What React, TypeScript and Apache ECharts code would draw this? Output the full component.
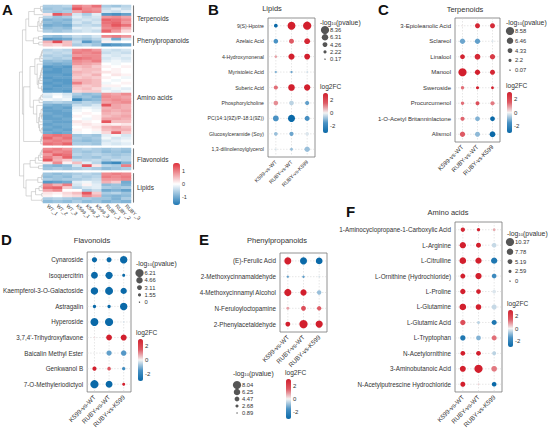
import React, { useEffect, useRef } from 'react';
import * as echarts from 'echarts';

// ---------- Panel A: heatmap data ----------
const sampleLabels = ['WT_1', 'WT_2', 'WT_3', 'K599_1', 'K599_2', 'K599_3', 'RUBY_1', 'RUBY_2', 'RUBY_3'];
const groupNames = ['Terpenoids', 'Phenylpropanoids', 'Amino acids', 'Flavonoids', 'Lipids'];
const heatTicks = [1, 0, -1];

const terpenoidRows = [
  [-0.6, -0.6, -0.5, 1.0, 0.8, 1.1, -0.6, -0.7, -0.5],
  [-0.7, -0.6, -0.7, 1.3, 0.9, 0.8, -0.4, -0.2, -0.4],
  [-0.6, -0.7, -0.6, 0.7, 1.0, 0.9, -0.3, -0.4, -0.2],
  [0.2, 1.3, 0.9, -0.3, -0.6, -0.2, -1.2, -1.3, -1.1],
  [-0.5, -0.7, -0.6, -0.2, -0.4, -0.3, 0.8, 0.9, 0.7],
  [-0.9, -0.8, -0.9, -0.4, -0.3, -0.4, 1.2, 1.1, 0.9],
  [-0.8, -0.9, -0.8, -0.3, -0.5, -0.3, 1.1, 1.2, 0.8],
  [-1.0, -0.9, -1.0, -0.5, -0.4, -0.5, 1.0, 1.3, 1.1],
  [-0.8, -0.7, -0.8, -0.2, -0.3, -0.2, 0.9, 1.0, 0.6],
  [-0.6, -0.7, -0.6, -0.4, -0.3, -0.4, 1.2, 0.8, 0.3],
];
const phenylRows = [
  [-0.7, -0.8, -0.6, -0.4, -0.5, -0.3, 0.9, 1.0, 0.8],
  [-1.2, -1.1, -1.0, -0.6, -0.7, -0.5, -0.2, -1.0, -0.3],
  [0.6, 1.4, 0.5, -0.4, -1.2, -0.8, 0.1, -0.1, 0.0],
  [0.4, 0.3, 0.5, -0.6, -0.5, -0.7, -1.3, -1.2, -1.1],
];
const aminoRows = [
  [-0.5, -0.4, -0.5, 0.9, 1.0, 0.8, -0.3, -0.4, -0.3],
  [-0.4, -0.5, -0.4, 1.0, 0.9, 1.0, -0.4, -0.3, -0.4],
  [-0.6, -0.5, -0.6, 0.8, 0.9, 0.9, -0.2, -0.3, -0.2],
  [-0.5, -0.6, -0.5, 1.1, 1.0, 0.9, -0.3, -0.2, -0.3],
  [-0.8, -0.7, -0.8, 0.9, 0.8, 1.0, -0.2, -0.1, -0.2],
  [-0.9, -1.0, -0.9, 0.8, 0.7, 0.6, 0.0, -0.1, 0.0],
  [-1.2, -1.1, -1.2, 0.5, 0.6, 0.4, 0.1, 0.0, 0.1],
  [-1.1, -1.2, -1.1, 0.4, 0.5, 0.5, 0.0, 0.1, 0.0],
  [-1.2, -1.2, -1.1, 0.6, 0.5, 0.4, 0.2, 0.1, 0.0],
  [-1.1, -1.1, -1.2, 0.5, 0.4, 0.6, 0.0, 0.2, 0.1],
  [-1.2, -1.1, -1.1, 0.4, 0.5, 0.4, 0.1, 0.0, -0.1],
  [-1.1, -1.2, -1.2, 0.6, 0.6, 0.5, 0.0, -0.1, 0.0],
  [-1.2, -1.1, -1.2, 1.0, 0.6, 0.5, -0.1, 0.0, 0.1],
  [-1.1, -1.2, -1.1, 0.5, 0.4, 0.5, 0.1, 0.1, 0.0],
  [-1.2, -1.1, -1.1, 0.4, 0.5, 0.3, -0.2, -0.1, -0.2],
  [-1.1, -1.1, -1.2, 0.3, 0.4, 0.4, -0.1, -0.2, -0.1],
  [-0.2, -0.1, -0.3, -0.6, -0.8, -0.7, 0.8, 0.7, 0.9],
  [-0.3, 0.0, -0.2, -0.8, -0.7, -0.9, 0.9, 0.8, 0.7],
  [-0.1, -0.2, -0.1, -1.4, -0.9, -0.8, 0.8, 0.9, 0.8],
  [-0.6, -0.5, -0.6, -0.7, -0.5, -0.6, 0.7, 0.8, 0.9],
  [-0.9, -1.0, -0.9, -0.4, -0.5, -0.3, 1.3, 0.7, 0.6],
  [-1.1, -1.0, -1.1, -0.2, -0.1, -0.2, 0.6, 0.7, 0.6],
  [-1.1, -1.1, -1.0, -0.1, 0.0, -0.1, 0.7, 0.6, 0.7],
  [-1.0, -1.1, -1.1, 0.0, 0.1, 0.0, 0.6, 0.5, 0.6],
  [-1.1, -1.0, -1.1, 0.1, 0.0, 0.1, 0.5, 0.6, 0.7],
  [-1.1, -1.1, -1.0, 0.0, -0.1, 0.1, 0.7, 0.7, 0.6],
  [-1.0, -1.1, -1.1, 0.2, 0.1, 0.0, 1.3, 0.5, 0.5],
  [-1.1, -1.0, -1.0, 0.1, 0.2, 0.1, 0.2, 0.1, 0.2],
  [-1.0, -1.1, -1.0, 0.0, 0.1, 0.2, 0.6, 0.7, 0.5],
  [-1.1, -1.0, -1.1, 0.1, 0.0, 0.1, 0.5, 0.6, 0.6],
  [-1.0, -1.1, -1.0, -0.1, 0.0, -0.1, 0.3, 1.2, 0.4],
  [1.0, 1.1, 1.0, -0.7, -0.6, -0.7, -0.2, -0.1, -0.3],
  [1.2, 0.9, 1.1, -0.6, -0.7, -0.6, -0.1, -0.3, -0.2],
  [0.9, 1.0, 0.9, -0.7, -0.8, -0.7, -0.3, -0.2, -0.1],
  [1.1, 1.0, 1.2, -0.6, -0.6, -0.7, -0.2, -0.3, -0.2],
];
const flavonoidRows = [
  [0.9, 1.0, 0.8, -0.6, -0.5, -0.6, -0.7, -0.6, -0.7],
  [1.1, 0.9, 1.0, -0.6, -0.7, -0.6, -0.8, -0.7, -0.8],
  [0.8, 1.2, 1.1, -0.5, -0.6, -0.5, -0.6, -0.7, -0.6],
  [1.0, 0.7, 1.2, -0.7, -0.6, -0.7, -0.5, -0.6, -0.5],
  [1.3, 0.6, 0.4, -0.4, -0.5, -0.4, -0.6, -0.4, -0.5],
  [0.2, 0.9, 0.1, 0.5, -0.2, -0.5, -1.2, -1.4, -0.9],
  [-0.8, -0.9, -0.8, -0.3, 1.3, 0.2, -0.5, -0.6, 1.0],
  [-0.7, -0.6, -0.7, -0.6, -0.5, -0.6, -0.8, -0.7, -0.6],
];
const lipidRows = [
  [-0.7, -0.8, -0.7, -0.6, -0.5, -0.6, 0.9, 1.0, 0.9],
  [-0.8, -0.7, -0.8, -0.5, -0.6, -0.5, 1.0, 0.9, 1.0],
  [-0.6, -0.7, -0.6, -0.6, -0.5, -0.4, 0.8, 0.8, 0.9],
  [-1.2, -1.1, -1.0, -0.2, -0.1, -0.3, 0.6, 0.4, -1.0],
  [0.9, 0.6, 1.0, -0.3, 0.1, -0.2, -0.8, -0.7, -0.9],
  [1.1, 1.2, 0.4, -0.5, -0.3, -0.2, -0.6, -0.7, -0.6],
  [0.7, 0.9, 0.0, 0.0, -0.6, -0.4, -1.0, -0.9, -1.1],
  [0.2, 0.1, 0.3, 0.5, 1.3, 0.4, -0.6, -0.5, -0.7],
  [0.1, 0.0, 0.2, 0.3, 0.9, 0.6, -0.8, -0.9, -0.8],
  [-0.6, -0.5, -0.6, -0.7, -0.6, -0.7, -0.7, -0.9, -0.6],
  [-0.8, -0.7, -0.8, -0.6, -0.8, -0.7, -0.9, -0.8, -0.9],
];

// ---------- Dot plots ----------
const comparisons = ['K599-vs-WT', 'RUBY-vs-WT', 'RUBY-vs-K599'];
const fcTicks = [2, 0, -2];

const lipidNames = ['9(S)-Hpotre', 'Azelaic Acid', '4-Hydroxynonenal', 'Myristoleic Acid', 'Suberic Acid', 'Phosphorylcholine', 'PC(14:1(9Z)/P-18:1(9Z))', 'Glucosylceramide (Soy)', '1,3-dilinolenoylglycerol'];
const lipidFC = [[-3, 3, 3], [-1.5, 1.5, 2.8], [0.8, 3, 3], [-1, -1.2, -0.3], [1.3, 3, 3], [1, -0.5, -1.3], [-1.5, -3, -1.6], [-0.8, -1.2, -0.2], [-0.3, -0.8, -0.8]];
const lipidP = [[3, 8.0, 8.36], [4, 4.5, 5.5], [1.5, 6, 5.5], [1.2, 1.2, 0.5], [3.5, 6.5, 6], [4, 4, 3.5], [5.5, 7, 4.5], [3, 3.5, 2.8], [0.3, 2, 5]];
const lipidLegend = [8.36, 6.31, 4.26, 2.22, 0.17];

const terpNames = ['3-Epioleanolic Acid', 'Sclareol', 'Linalool', 'Manool', 'Sweroside', 'Procurcumenol', '1-O-Acetyl Britanninlactone', 'Alismol'];
const terpFC = [[0.1, 2.8, 2.7], [-1.2, -1.3, -0.2], [2.9, 2.8, 2.3], [3, 3, 2.8], [1.3, 3, 3], [1.3, 1.8, 1.2], [1.4, -1.0, -3], [1.5, -0.9, -3]];
const terpP = [[0.2, 4.5, 4.5], [5, 5, 0.8], [4.3, 5.5, 5], [8.58, 5, 4.5], [2.5, 2.2, 1.8], [2.5, 3.3, 3.5], [3.5, 4.3, 4.3], [5, 4.6, 5.5]];
const terpLegend = [8.58, 6.46, 4.33, 2.2, 0.07];

const flavNames = ['Cynaroside', 'Isoquercitrin', 'Kaempferol-3-O-Galactoside', 'Astragalin', 'Hyperoside', "3,7,4'-Trihydroxyflavone", 'Baicalin Methyl Ester', 'Genkwanol B', '7-O-Methyleriodictyol'];
const flavFC = [[-3, -3, -3], [-3, -3, -3], [-3, -3, -3], [-3, -3, -3], [-3, -3, -0.2], [0.2, 3, 3], [0, -1.3, -1.4], [3, 1.6, -1.8], [-3, -3, 3]];
const flavP = [[3.5, 3.3, 5.5], [5, 5.3, 1.5], [5.5, 6, 4.5], [1.8, 1.8, 5.5], [6, 6.2, 0.3], [0.3, 4, 4.2], [0.2, 3.5, 3.7], [2.5, 2, 1.8], [6.2, 5, 1.5]];
const flavLegend = [6.21, 4.66, 3.11, 1.55, 0];

const phenNames = ['(E)-Ferulic Acid', '2-Methoxycinnamaldehyde', '4-Methoxycinnamyl Alcohol', 'N-Feruloyloctopamine', '2-Phenylacetaldehyde'];
const phenFC = [[3, -3, -3], [-1.3, -1.3, -0.3], [3, 3, -0.8], [0.8, 1.8, 1.5], [3, 3, 3]];
const phenP = [[6.8, 6.8, 6.5], [1.8, 2, 0.9], [7, 6, 4], [2.5, 4.5, 4], [4.5, 8.04, 7]];
const phenLegend = [8.04, 6.25, 4.47, 2.68, 0.89];

const aminoNames = ['1-Aminocyclopropane-1-Carboxylic Acid', 'L-Arginine', 'L-Citrulline', 'L-Ornithine (Hydrochloride)', 'L-Proline', 'L-Glutamine', 'L-Glutamic Acid', 'L-Tryptophan', 'N-Acetylornithine', '3-Aminobutanoic Acid', 'N-Acetylputrescine Hydrochloride'];
const aminoFC = [[2.8, 3, 0.7], [3, 3, -0.4], [3, 3, -2.5], [3, 3, -1.8], [3, 3, -0.2], [3, 3, -0.4], [1.8, -0.5, -2.5], [-2.5, -1, 1.3], [3, 3, -0.5], [3, 3, 1.2], [3, 0.3, -3]];
const aminoP = [[4.5, 2.8, 2], [7.5, 5.5, 5], [8, 7.5, 7.5], [5.5, 7.5, 5], [6, 5, 3.5], [8, 6.5, 5.5], [6, 2.5, 5.5], [6, 5, 5.5], [5, 5, 4], [7, 10.37, 6.5], [5.5, 0.5, 5]];
const aminoLegend = [10.37, 7.78, 5.19, 2.59, 0];

const FONT = '"Liberation Sans", Arial, Helvetica, sans-serif';
const TXT = '#333';

const panels = [
  { letter: 'B', title: 'Lipids', names: lipidNames, fc: lipidFC, p: lipidP, legend: lipidLegend,
    L: { fs: 5.2, letter: [208, 2], title: [272, 8], grid: [268, 18, 47, 139], lx: 320, ly: 21, cx: 325, cy0: 30, step: 7.3, fx: 320, fy: 86, cbX: 323, cbY: 93, cbH: 40 } },
  { letter: 'C', title: 'Terpenoids', names: terpNames, fc: terpFC, p: terpP, legend: terpLegend,
    L: { fs: 6.0, letter: [378, 2], title: [465, 9], grid: [455, 18, 45, 124], lx: 506, ly: 21, cx: 510, cy0: 31, step: 9.8, fx: 506, fy: 85, cbX: 507, cbY: 92, cbH: 41 } },
  { letter: 'D', title: 'Flavonoids', names: flavNames, fc: flavFC, p: flavP, legend: flavLegend,
    L: { fs: 6.3, letter: [1, 232], title: [92, 240], grid: [85, 252, 46, 140], lx: 136, ly: 262, cx: 139.5, cy0: 273, step: 7.3, fx: 136, fy: 332, cbX: 138, cbY: 339, cbH: 42 } },
  { letter: 'E', title: 'Phenylpropanoids', names: phenNames, fc: phenFC, p: phenP, legend: phenLegend,
    L: { fs: 6.3, letter: [199, 232], title: [277, 240], grid: [280, 253, 47, 79], lx: 233, ly: 372, cx: 237, cy0: 385, step: 7, fx: 285, fy: 372, cbX: 286, cbY: 379, cbH: 40 } },
  { letter: 'F', title: 'Amino acids', names: aminoNames, fc: aminoFC, p: aminoP, legend: aminoLegend,
    L: { fs: 6.3, letter: [346, 204], title: [448, 212], grid: [455, 222, 47, 171], lx: 507, ly: 232, cx: 510, cy0: 242, step: 9.8, fx: 507, fy: 303, cbX: 508, cbY: 310, cbH: 37 } },
];

type Node = { c: number; h: number; v: number[]; n: number };
function dist(a: number[], b: number[]) {
  let s = 0;
  for (let k = 0; k < a.length; k++) s += (a[k] - b[k]) * (a[k] - b[k]);
  return Math.sqrt(s);
}
function cluster(nodes: Node[], links: number[][]): Node {
  const list = nodes.slice();
  while (list.length > 1) {
    let best = 0;
    let bd = Infinity;
    for (let i = 0; i < list.length - 1; i++) {
      const d = dist(list[i].v, list[i + 1].v);
      if (d < bd) { bd = d; best = i; }
    }
    const a = list[best];
    const b = list[best + 1];
    const h = Math.max(a.h, b.h) + bd * 0.5 + 0.05;
    links.push([a.c, b.c, a.h, b.h, h]);
    const n = a.n + b.n;
    list.splice(best, 2, { c: (a.c + b.c) / 2, h, v: a.v.map((x, k) => (x * a.n + b.v[k] * b.n) / n), n });
  }
  return list[0];
}

const sizeOf = (v: number, lg: number[]) => {
  const mx = lg[0];
  const mn = lg[lg.length - 1];
  return Math.max(1, 1.4 + ((v - mn) / (mx - mn)) * 6.8);
};

function buildOption() {
  const groupRows = [terpenoidRows, phenylRows, aminoRows, flavonoidRows, lipidRows];
  let r = 0;
  const groupStart: number[] = [];
  const heatData: number[][] = [];
  groupRows.forEach((rows, g) => {
    if (g > 0) r++;
    groupStart.push(r);
    rows.forEach((vals) => {
      vals.forEach((v, c) => heatData.push([c, r, v]));
      r++;
    });
  });
  const nRows = r;
  const rowCats = Array.from({ length: nRows }, (_, i) => String(i));

  const links: number[][] = [];
  const roots = groupRows.map((rows, g) => cluster(rows.map((v, i) => ({ c: groupStart[g] + i, h: 0, v, n: 1 })), links));
  const root = cluster(roots, links);

  const bracketData = groupRows.map((rows, g) => [groupStart[g], groupStart[g] + rows.length - 1, g]);

  const grids: any[] = [
    { left: 43, top: 5, width: 88, height: 198 },
    { left: 19, top: 5, width: 24, height: 198 },
  ];
  const xAxes: any[] = [
    { type: 'category', gridIndex: 0, data: sampleLabels, axisLine: { show: false }, axisTick: { show: false },
      axisLabel: { rotate: -45, fontSize: 5, margin: 2, color: TXT, interval: 0 } },
    { type: 'value', gridIndex: 1, min: 0, max: root.h * 1.02, inverse: true, show: false },
  ];
  const yAxes: any[] = [
    { type: 'category', gridIndex: 0, data: rowCats, inverse: true, show: false },
    { type: 'value', gridIndex: 1, min: -0.5, max: nRows - 0.5, inverse: true, show: false },
  ];
  const series: any[] = [
    { type: 'heatmap', xAxisIndex: 0, yAxisIndex: 0, data: heatData, itemStyle: { borderWidth: 0 } },
    {
      type: 'custom', xAxisIndex: 1, yAxisIndex: 1, data: links,
      renderItem: (_p: any, api: any) => {
        const y1 = api.value(0), y2 = api.value(1), h1 = api.value(2), h2 = api.value(3), h = api.value(4);
        return {
          type: 'polyline',
          shape: { points: [api.coord([h1, y1]), api.coord([h, y1]), api.coord([h, y2]), api.coord([h2, y2])] },
          style: { stroke: '#b0b0b0', lineWidth: 0.5, fill: 'none' },
        };
      },
    },
    {
      type: 'custom', xAxisIndex: 0, yAxisIndex: 0, data: bracketData,
      renderItem: (params: any, api: any) => {
        const cs = params.coordSys;
        const band = api.size([0, 1])[1];
        const s = api.value(0), e = api.value(1), g = api.value(2);
        const yT = api.coord([0, s])[1] - band / 2 + 0.4;
        const yB = api.coord([0, e])[1] + band / 2 - 0.4;
        const x = cs.x + cs.width + 2.5;
        return {
          type: 'group',
          children: [
            { type: 'line', shape: { x1: x, y1: yT, x2: x, y2: yB }, style: { stroke: '#777', lineWidth: 1.1 } },
            { type: 'text', x: x + 3.5, y: (yT + yB) / 2, style: { text: groupNames[g], fontSize: 6.5, fill: TXT, verticalAlign: 'middle', fontFamily: FONT } },
          ],
        };
      },
    },
  ];
  const visualMaps: any[] = [
    { type: 'continuous', seriesIndex: 0, dimension: 2, min: -1.6, max: 1.6, left: 173, top: 163, itemWidth: 7, itemHeight: 42,
      padding: 0, calculable: false, hoverLink: false, inRange: { color: ['#1f78b4', '#ffffff', '#e0303a'] } },
  ];
  const graphics: any[] = [];
  const txt = (x: number, y: number, text: string, fontSize: number, extra: any = {}) => ({
    type: 'text', x, y, silent: true,
    style: { text, fontSize, fill: TXT, fontFamily: FONT, verticalAlign: 'middle', ...extra },
  });
  graphics.push({ type: 'text', x: 2, y: 2, style: { text: 'A', fontSize: 15, fontWeight: 'bold', fill: '#111', fontFamily: FONT, verticalAlign: 'top' } });
  heatTicks.forEach((v) => graphics.push(txt(182, 163 + ((1.6 - v) / 3.2) * 42, String(v), 5.5)));

  panels.forEach((pn, pi) => {
    const L = pn.L;
    const gi = 2 + pi;
    grids.push({ left: L.grid[0], top: L.grid[1], width: L.grid[2], height: L.grid[3], show: true, borderColor: '#777', borderWidth: 0.8 });
    xAxes.push({ type: 'category', gridIndex: gi, data: comparisons, axisLine: { show: false }, axisTick: { show: false }, splitLine: { show: false },
      axisLabel: { rotate: 45, fontSize: L.fs, margin: 4, color: TXT, interval: 0 } });
    yAxes.push({ type: 'category', gridIndex: gi, data: pn.names, inverse: true, axisLine: { show: false }, axisTick: { show: false }, splitLine: { show: false },
      axisLabel: { fontSize: L.fs, margin: 4, color: TXT, interval: 0 } });
    const lineData: number[][] = [];
    pn.names.forEach((_n, i) => lineData.push([0, i]));
    comparisons.forEach((_c, j) => lineData.push([1, j]));
    series.push({
      type: 'custom', xAxisIndex: gi, yAxisIndex: gi, data: lineData, z: 1,
      renderItem: (params: any, api: any) => {
        const cs = params.coordSys;
        const kind = api.value(0), idx = api.value(1);
        if (kind === 0) {
          const y = api.coord([0, idx])[1];
          return { type: 'line', shape: { x1: cs.x, y1: y, x2: cs.x + cs.width, y2: y }, style: { stroke: '#cfcfcf', lineWidth: 0.5, lineDash: [1.5, 1.5] } };
        }
        const x = api.coord([idx, 0])[0];
        return { type: 'line', shape: { x1: x, y1: cs.y, x2: x, y2: cs.y + cs.height }, style: { stroke: '#cfcfcf', lineWidth: 0.5, lineDash: [1.5, 1.5] } };
      },
    });
    const dots: number[][] = [];
    pn.names.forEach((_n, i) => comparisons.forEach((_c, j) => dots.push([j, i, pn.fc[i][j], pn.p[i][j]])));
    const lg = pn.legend;
    series.push({
      type: 'scatter', xAxisIndex: gi, yAxisIndex: gi, data: dots, z: 3,
      symbolSize: (val: number[]) => sizeOf(val[3], lg),
      itemStyle: { opacity: 1 },
    });
    visualMaps.push({
      type: 'continuous', seriesIndex: series.length - 1, dimension: 2, min: -3, max: 3,
      left: L.cbX, top: L.cbY, itemWidth: 5, itemHeight: L.cbH, padding: 0, calculable: false, hoverLink: false,
      inRange: { color: ['#0a69a8', '#4a92c4', '#f3f3f3', '#de5a64', '#d21f2d'] },
    });
    graphics.push({ type: 'text', x: L.letter[0], y: L.letter[1], style: { text: pn.letter, fontSize: 15, fontWeight: 'bold', fill: '#111', fontFamily: FONT, verticalAlign: 'top' } });
    graphics.push(txt(L.title[0], L.title[1], pn.title, 7.5, { align: 'center' }));
    graphics.push({
      type: 'text', x: L.lx, y: L.ly, silent: true,
      style: {
        text: '{a|-log}{b|10}{a|(pvalue)}', fill: TXT, fontFamily: FONT, verticalAlign: 'middle',
        rich: { a: { fontSize: 6.8, fill: TXT, fontFamily: FONT, verticalAlign: 'bottom', lineHeight: 9 },
                b: { fontSize: 4.3, fill: TXT, fontFamily: FONT, verticalAlign: 'bottom', lineHeight: 7 } },
      },
    });
    lg.forEach((v, k) => {
      const cy = L.cy0 + k * L.step;
      graphics.push({ type: 'circle', silent: true, shape: { cx: L.cx, cy, r: sizeOf(v, lg) / 2 }, style: { fill: '#555' } });
      graphics.push(txt(L.cx + 5, cy, String(v), 5.8));
    });
    graphics.push(txt(L.fx, L.fy, 'log2FC', 6.6));
    fcTicks.forEach((v) => graphics.push(txt(L.cbX + 7, L.cbY + ((3 - v) / 6) * L.cbH, String(v), 6)));
  });

  return {
    animation: false,
    textStyle: { fontFamily: FONT },
    grid: grids,
    xAxis: xAxes,
    yAxis: yAxes,
    visualMap: visualMaps,
    series,
    graphic: { elements: graphics },
  };
}

export default function App() {
  const ref = useRef<HTMLDivElement>(null);
  useEffect(() => {
    document.body.style.margin = '0';
    const chart = echarts.init(ref.current as HTMLDivElement, null, { renderer: 'svg' });
    chart.setOption(buildOption() as any);
    return () => chart.dispose();
  }, []);
  return <div ref={ref} style={{ width: 550, height: 430 }} />;
}
